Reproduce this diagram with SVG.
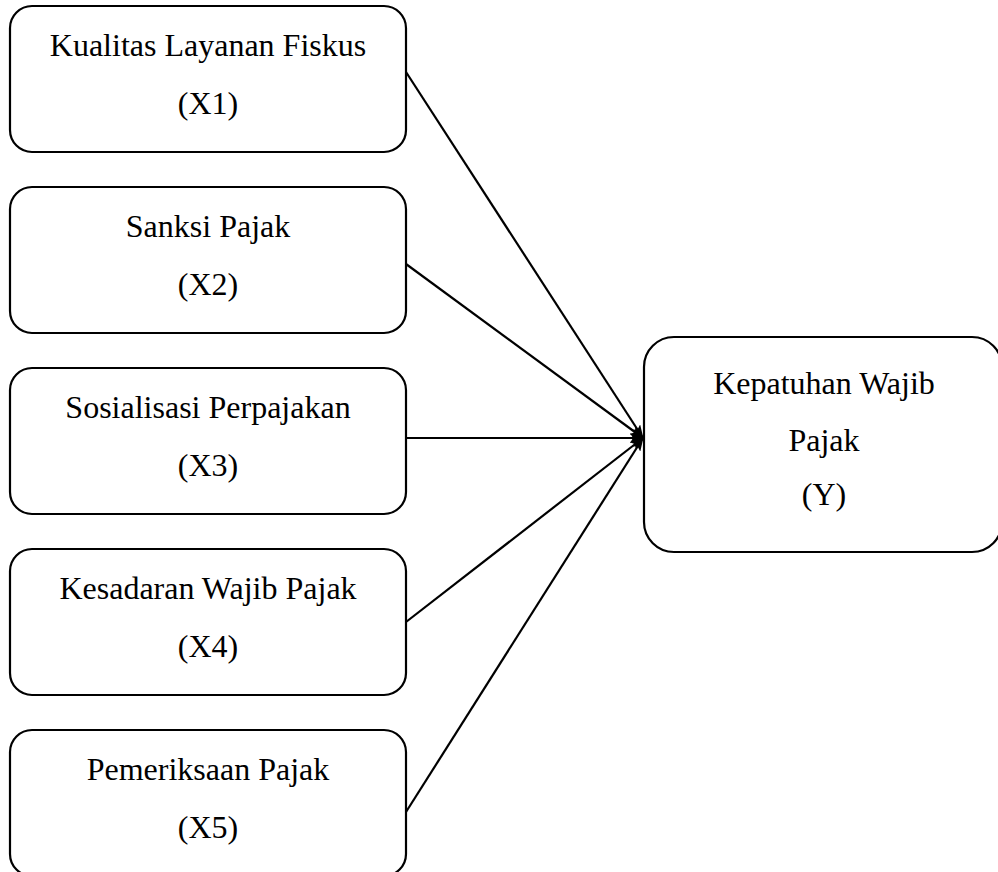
<svg xmlns="http://www.w3.org/2000/svg" width="998" height="872" viewBox="0 0 998 872">
<style>
.box{fill:#fff;stroke:#000;stroke-width:2.2}
.t{font-family:"Liberation Serif","Times New Roman",serif;font-size:32px;fill:#000;text-anchor:middle}
.c{stroke:#000;stroke-width:2.2;fill:none}
</style>
<defs>
<marker id="ah" markerWidth="14" markerHeight="10" refX="13" refY="5" orient="auto" markerUnits="userSpaceOnUse">
<path d="M0,0 L14,5 L0,10 L3,5 Z" fill="#000"/>
</marker>
</defs>
<rect width="998" height="872" fill="#fff"/>
<g id="connectors">
<line class="c" x1="406" y1="72" x2="643" y2="438" marker-end="url(#ah)"/>
<line class="c" x1="406" y1="264" x2="643" y2="438" marker-end="url(#ah)"/>
<line class="c" x1="406" y1="438" x2="643" y2="438" marker-end="url(#ah)"/>
<line class="c" x1="406" y1="622" x2="643" y2="438" marker-end="url(#ah)"/>
<line class="c" x1="406" y1="812" x2="643" y2="438" marker-end="url(#ah)"/>
</g>
<g id="x1">
<rect class="box" x="10" y="6" width="396" height="146" rx="22"/>
<text class="t" x="208" y="56">Kualitas Layanan Fiskus</text>
<text class="t" x="208" y="114">(X1)</text>
</g>
<g id="x2">
<rect class="box" x="10" y="187" width="396" height="146" rx="22"/>
<text class="t" x="208" y="237">Sanksi Pajak</text>
<text class="t" x="208" y="295">(X2)</text>
</g>
<g id="x3">
<rect class="box" x="10" y="368" width="396" height="146" rx="22"/>
<text class="t" x="208" y="418">Sosialisasi Perpajakan</text>
<text class="t" x="208" y="476">(X3)</text>
</g>
<g id="x4">
<rect class="box" x="10" y="549" width="396" height="146" rx="22"/>
<text class="t" x="208" y="599">Kesadaran Wajib Pajak</text>
<text class="t" x="208" y="657">(X4)</text>
</g>
<g id="x5">
<rect class="box" x="10" y="730" width="396" height="146" rx="22"/>
<text class="t" x="208" y="780">Pemeriksaan Pajak</text>
<text class="t" x="208" y="838">(X5)</text>
</g>
<g id="y">
<rect class="box" x="644" y="337" width="358" height="215" rx="30"/>
<text class="t" x="824" y="394">Kepatuhan Wajib</text>
<text class="t" x="824" y="451">Pajak</text>
<text class="t" x="824" y="505">(Y)</text>
</g>
</svg>
